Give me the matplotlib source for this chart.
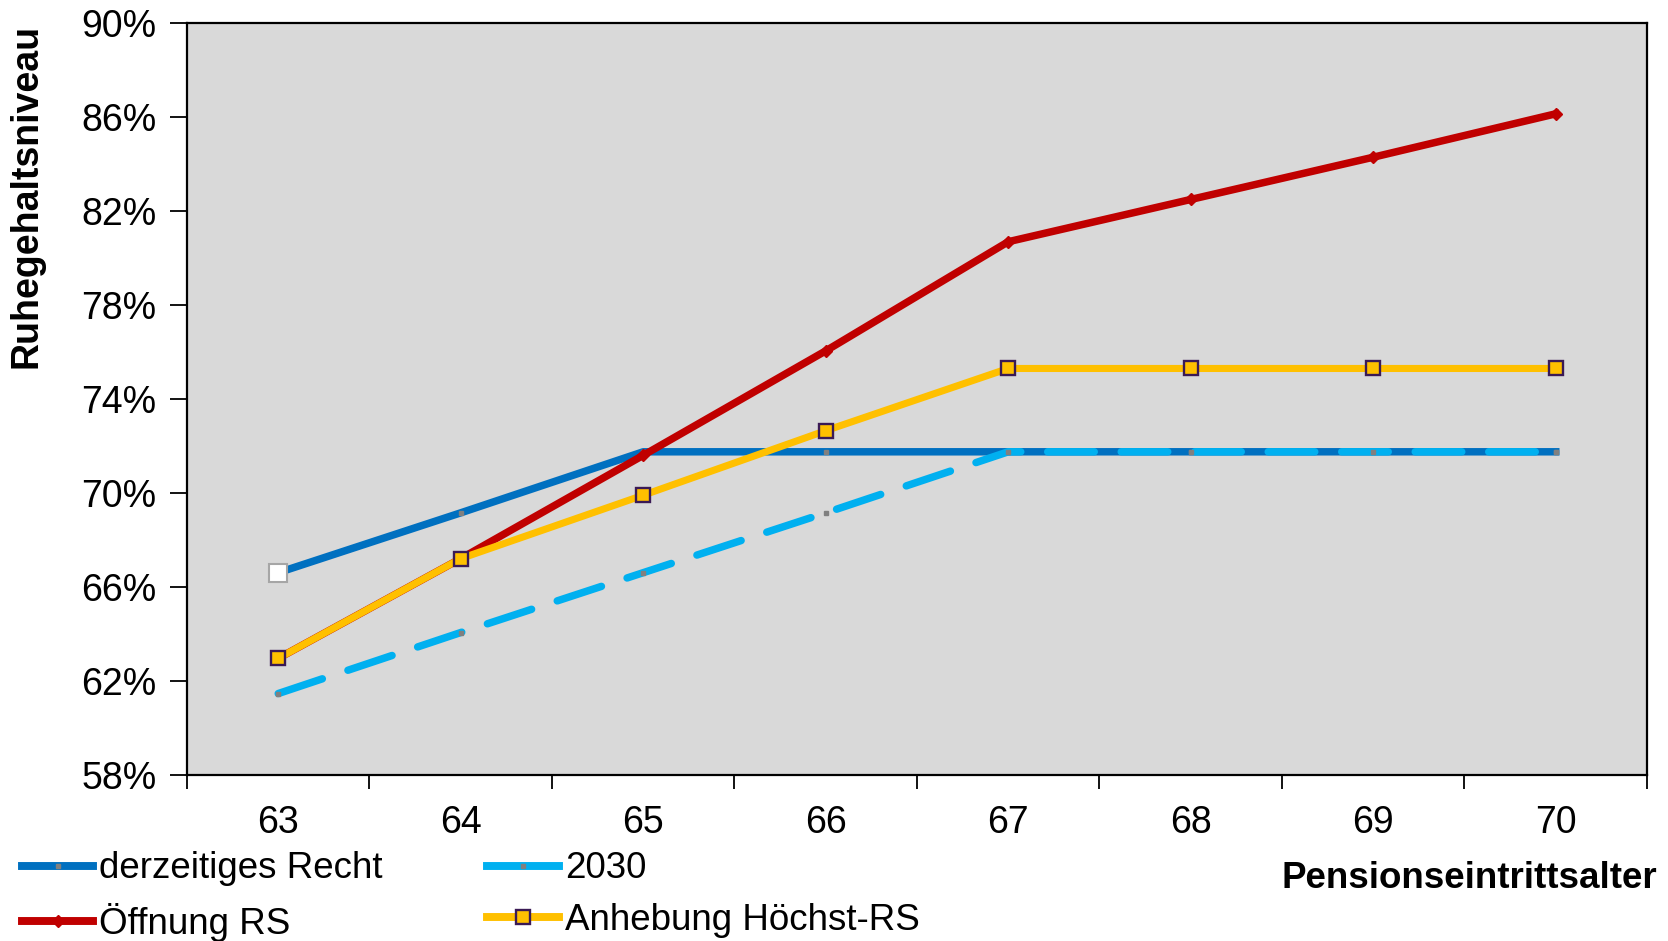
import matplotlib
matplotlib.use("Agg")
import matplotlib.pyplot as plt
from matplotlib.lines import Line2D
from matplotlib.ticker import FixedLocator, FuncFormatter

plt.rcParams['font.family'] = ['Liberation Sans', 'DejaVu Sans']

# data (Ruhegehaltsniveau in %)
alter = [63, 64, 65, 66, 67, 68, 69, 70]
derzeit = [66.6, 69.15, 71.75, 71.75, 71.75, 71.75, 71.75, 71.75]
y2030 = [61.45, 64.05, 66.6, 69.15, 71.75, 71.75, 71.75, 71.75]
oeffnung = [62.95, 67.2, 71.6, 76.05, 80.7, 82.5, 84.3, 86.15]
anhebung = [62.95, 67.2, 69.9, 72.65, 75.3, 75.3, 75.3, 75.3]
labels = ['derzeitiges Recht', '2030', 'Öffnung RS', 'Anhebung Höchst-RS']

blue = '#0070C0'
cyan = '#00B0F0'
red = '#C00000'
yellow = '#FFC000'
purple = '#3A1A55'
grey = '#808080'

fig = plt.figure(figsize=(16.68, 9.41), dpi=100)
ax = fig.add_axes([0.1121, 0.1769, 0.8753, 0.7982])
ax.set_facecolor('#D9D9D9')

lw = 5.4
ax.plot(alter, derzeit, color=blue, lw=lw, marker='s', ms=3.5, mfc=grey, mec=grey, zorder=2)
# first point of derzeitiges Recht drawn as white box
ax.plot(alter[0], derzeit[0], marker='s', ms=13.5, mfc='white', mec='#A6A6A6', mew=1.5, zorder=6)
ax.plot(alter, y2030, color=cyan, lw=lw, dashes=(6.2, 3.6), dash_capstyle='round',
        marker='s', ms=3.5, mfc=grey, mec=grey, zorder=3)
ax.plot(alter, oeffnung, color=red, lw=lw, marker='D', ms=6.5, mfc=red, mec=red, zorder=4)
ax.plot(alter, anhebung, color=yellow, lw=lw - 0.3, marker='s', ms=10, mfc=yellow,
        mec=purple, mew=1.7, zorder=5)

ax.set_xlim(62.5, 70.5)
ax.set_ylim(58, 90)
ax.yaxis.set_major_locator(FixedLocator(range(58, 91, 4)))
ax.yaxis.set_major_formatter(FuncFormatter(lambda v, p: '%d%%' % v))
ax.xaxis.set_major_locator(FixedLocator([62.5 + i for i in range(9)]))
ax.xaxis.set_major_formatter(FuncFormatter(lambda v, p: ''))
ax.xaxis.set_minor_locator(FixedLocator(alter))
ax.xaxis.set_minor_formatter(FuncFormatter(lambda v, p: '%d' % v))

ax.tick_params(axis='y', which='major', length=12, width=1.3, pad=10, labelsize=27, direction='out')
ax.tick_params(axis='x', which='major', length=10, width=1.3, direction='out')
ax.tick_params(axis='x', which='minor', length=0, pad=22, labelsize=27)
for s in ax.spines.values():
    s.set_linewidth(1.6)
    s.set_color('black')

fig.text(0.016, 0.975, 'Ruhegehaltsniveau', rotation=90, ha='center', va='top',
         fontsize=27, fontweight='bold')
fig.text(0.9934, 0.066, 'Pensionseintrittsalter', ha='right', va='center',
         fontsize=26.5, fontweight='bold')

handles = [
    Line2D([], [], color=blue, lw=lw + 0.3, marker='s', ms=3.5, mfc=grey, mec=grey),
    Line2D([], [], color=cyan, lw=lw + 0.3, marker='s', ms=3.5, mfc=grey, mec=grey),
    Line2D([], [], color=red, lw=lw + 0.3, marker='D', ms=6.5, mfc=red, mec=red),
    Line2D([], [], color=yellow, lw=lw + 0.3, marker='s', ms=10, mfc=yellow, mec=purple, mew=1.7),
]
# col 1 = derzeit, Oeffnung ; col 2 = 2030, Anhebung
fig.legend([handles[0], handles[2], handles[1], handles[3]],
           [labels[0], labels[2], labels[1], labels[3]],
           ncol=2, loc='center left', bbox_to_anchor=(0.013, 0.047),
           frameon=False, fontsize=26.5, handlelength=1.95, handletextpad=0.15,
           columnspacing=2.85, labelspacing=0.45, borderpad=0, borderaxespad=0)

fig.savefig('out.png', dpi=100)
